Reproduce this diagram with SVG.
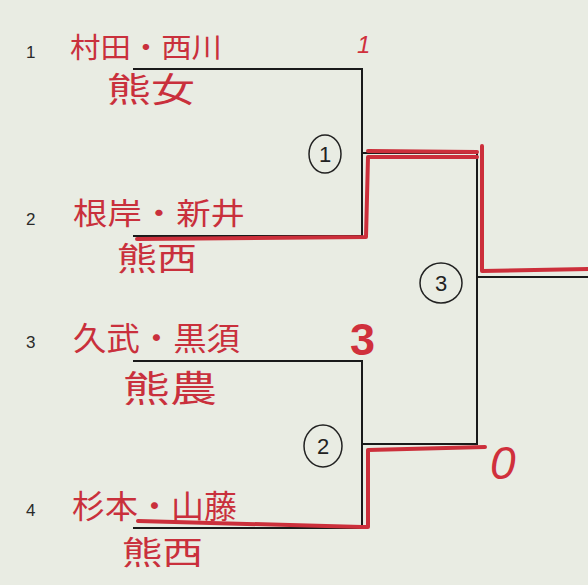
<svg xmlns="http://www.w3.org/2000/svg" width="588" height="585" viewBox="0 0 588 585">
<style>
.bg{fill:#e9ece3}
.br{fill:none;stroke:#1a1a1a;stroke-width:2}
.win{fill:none;stroke:#cc2f3b;stroke-width:4;stroke-linejoin:round;stroke-linecap:round}
.seed{font-family:"Liberation Sans",Arial,sans-serif;font-size:17px;fill:#2a2a2a}
.name{font-family:"Noto Sans CJK JP","Noto Sans CJK SC",sans-serif;fill:#c9303c;font-weight:400}
.score{font-family:"Liberation Sans",Arial,sans-serif;fill:#d0303c}
.circ{fill:none;stroke:#222;stroke-width:1.5}
.cnum{font-family:"Liberation Sans",Arial,sans-serif;font-size:22px;fill:#222;text-anchor:middle}
</style>
<rect class="bg" x="0" y="0" width="588" height="585"/>
<g id="connectors">
<path class="br" d="M133,69 H362 V236 H133"/>
<path class="br" d="M133,361 H362 V528 H133"/>
<path class="br" d="M362,153 H477 V444 H362"/>
<path class="br" d="M477,277 H588"/>
<path class="win" d="M137,239 L366,237 L368,157 L477,157"/>
<path class="win" d="M368,151 L477,152"/>
<path class="win" d="M482,146 L482,271 L588,269"/>
<path class="win" d="M138,521 L362,527 L368,527 L368,450 L485,447"/>
</g>
<g id="team1">
<text class="seed" x="26" y="58">1</text>
<text class="name" x="70" y="58" font-size="28" textLength="152" lengthAdjust="spacingAndGlyphs">村田・西川</text>
<text class="name" x="107" y="102" font-size="34" textLength="88" lengthAdjust="spacingAndGlyphs">熊女</text>
</g>
<g id="team2">
<text class="seed" x="26" y="225">2</text>
<text class="name" x="73" y="224" font-size="30" textLength="172" lengthAdjust="spacingAndGlyphs">根岸・新井</text>
<text class="name" x="117" y="270" font-size="32" textLength="80" lengthAdjust="spacingAndGlyphs">熊西</text>
</g>
<g id="team3">
<text class="seed" x="26" y="348">3</text>
<text class="name" x="73" y="350" font-size="32" textLength="167" lengthAdjust="spacingAndGlyphs">久武・黒須</text>
<text class="name" x="123" y="402" font-size="36" textLength="94" lengthAdjust="spacingAndGlyphs">熊農</text>
</g>
<g id="team4">
<text class="seed" x="26" y="516">4</text>
<text class="name" x="72" y="518" font-size="32" textLength="165" lengthAdjust="spacingAndGlyphs">杉本・山藤</text>
<text class="name" x="122" y="564" font-size="32" textLength="81" lengthAdjust="spacingAndGlyphs">熊西</text>
</g>
<g id="match1">
<ellipse class="circ" cx="325" cy="154" rx="16" ry="19"/>
<text class="cnum" x="325" y="162">1</text>
<text class="score" x="357" y="53" font-size="24" font-style="italic">1</text>
</g>
<g id="match2">
<ellipse class="circ" cx="323" cy="446" rx="19" ry="21"/>
<text class="cnum" x="323" y="454">2</text>
<text class="score" x="350" y="355" font-size="45" font-weight="bold">3</text>
</g>
<g id="match3">
<ellipse class="circ" cx="441" cy="283" rx="21" ry="20"/>
<text class="cnum" x="441" y="291">3</text>
<text class="score" x="490" y="479" font-size="46" font-style="italic">0</text>
</g>
</svg>
